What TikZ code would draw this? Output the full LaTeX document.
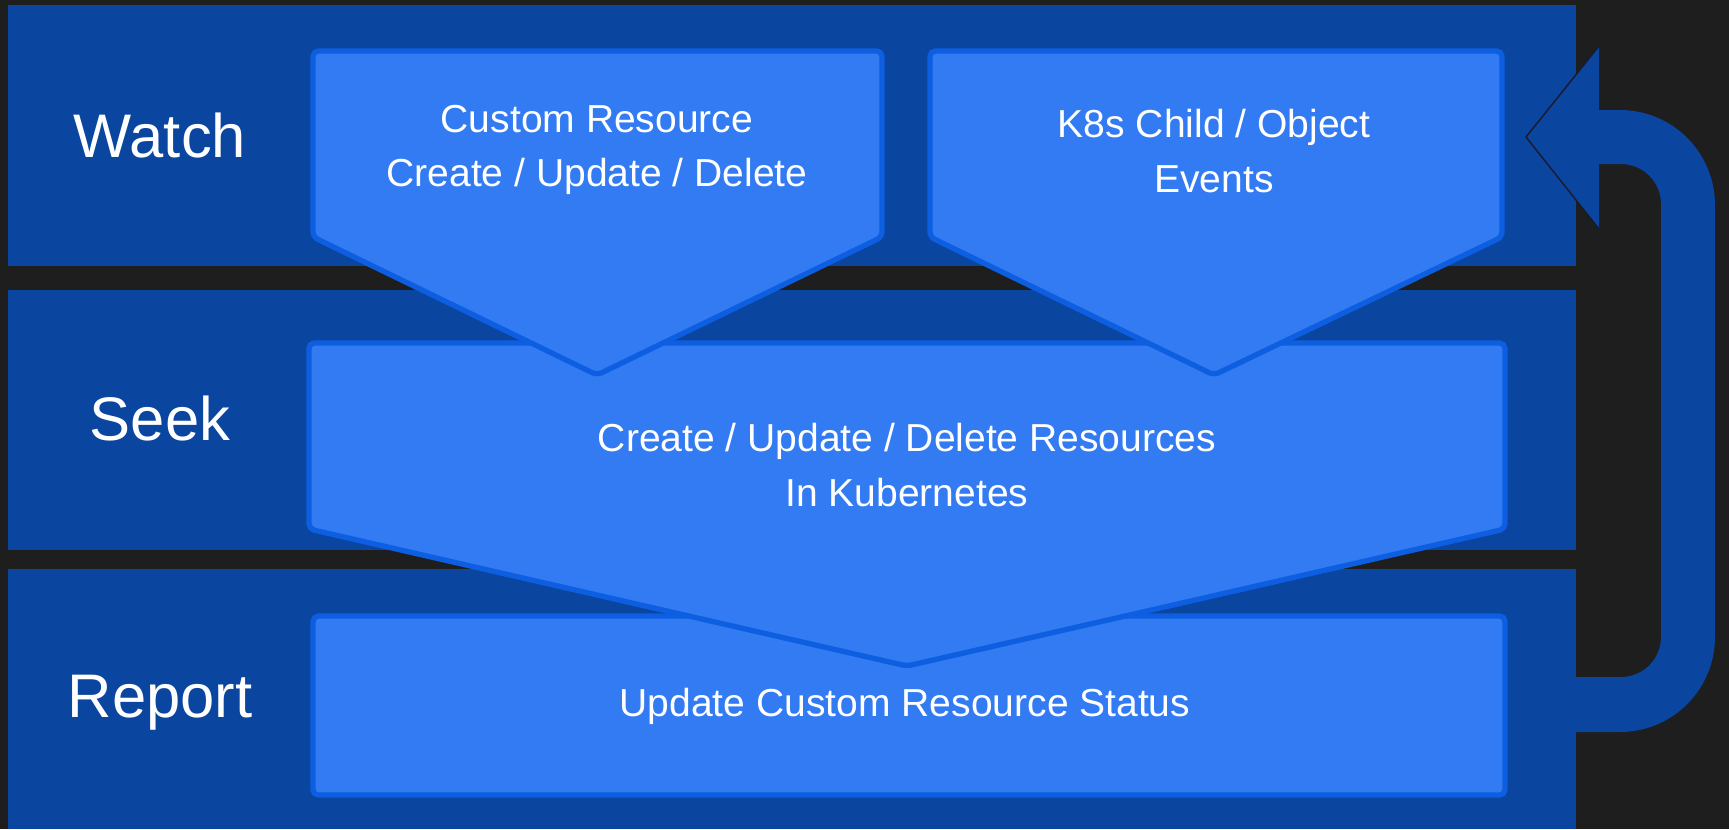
\documentclass[tikz,border=0pt]{standalone}
\usepackage{fontspec}
\setmainfont{Liberation Sans}
\usepackage{tikz}
\usetikzlibrary{arrows.meta}

\definecolor{bgdark}{HTML}{1E1E1E}
\definecolor{bandblue}{HTML}{0A45A0}
\definecolor{boxblue}{HTML}{327BF2}
\definecolor{edgeblue}{HTML}{0D5EE0}
\definecolor{headline}{HTML}{1A1A2A}

\tikzset{
  band/.style={fill=bandblue},
  stagebox/.style={fill=boxblue, draw=edgeblue, line width=1.5pt, rounded corners=1.5pt, line join=round},
  phase/.style={text=white, font=\fontsize{17.5}{21}\selectfont},
  lbl/.style={text=white, align=center, font=\fontsize{11.1}{15.4}\selectfont},
}

\begin{document}
\begin{tikzpicture}[x=0.01cm, y=-0.01cm]
\useasboundingbox (0,0) rectangle (1729,829);

% Background and bands
\fill[bgdark] (0,0) rectangle (1729,829);
\fill[band] (8,5) rectangle (1576,266);
\fill[band] (8,290) rectangle (1576,550);
\fill[band] (8,569) rectangle (1576,829);

% Loop arrow
\fill[bandblue] (1575,677) -- (1621,677) arc[start angle=90, end angle=0, radius=40]
  -- (1661,204) arc[start angle=0, end angle=-90, radius=40]
  -- (1599,164) -- (1599,229) -- (1526,137) -- (1599,46) -- (1599,110)
  -- (1620,110) arc[start angle=-90, end angle=0, radius=95]
  -- (1715,637) arc[start angle=0, end angle=90, radius=95]
  -- (1575,732) -- cycle;
\draw[headline, line width=0.4pt] (1599,46) -- (1526,137) -- (1599,229);

% Stage boxes
\draw[stagebox] (313,616) rectangle (1505,795);
\draw[stagebox] (309,343) -- (1505,343) -- (1505,529) -- (907,666) -- (309,529) -- cycle;
\draw[stagebox] (313,51) -- (882,51) -- (882,237) -- (597,375) -- (313,237) -- cycle;
\draw[stagebox] (930,51) -- (1502,51) -- (1502,237) -- (1214,375) -- (930,237) -- cycle;

% Nodes
\node[phase] (watch) at (160,135) {Watch};
\node[phase] (seek) at (160,418) {Seek};
\node[phase] (report) at (160,703) {Report};

\node[lbl] (crevents) at (597,150) {Custom Resource\\Create / Update / Delete};
\node[lbl] (childevents) at (1214,151) {K8s Child / Object\\Events};
\node[lbl] (reconcile) at (907,465) {Create / Update / Delete Resources\\In Kubernetes};
\node[lbl] (status) at (905,706) {Update Custom Resource Status};

\end{tikzpicture}
\end{document}
